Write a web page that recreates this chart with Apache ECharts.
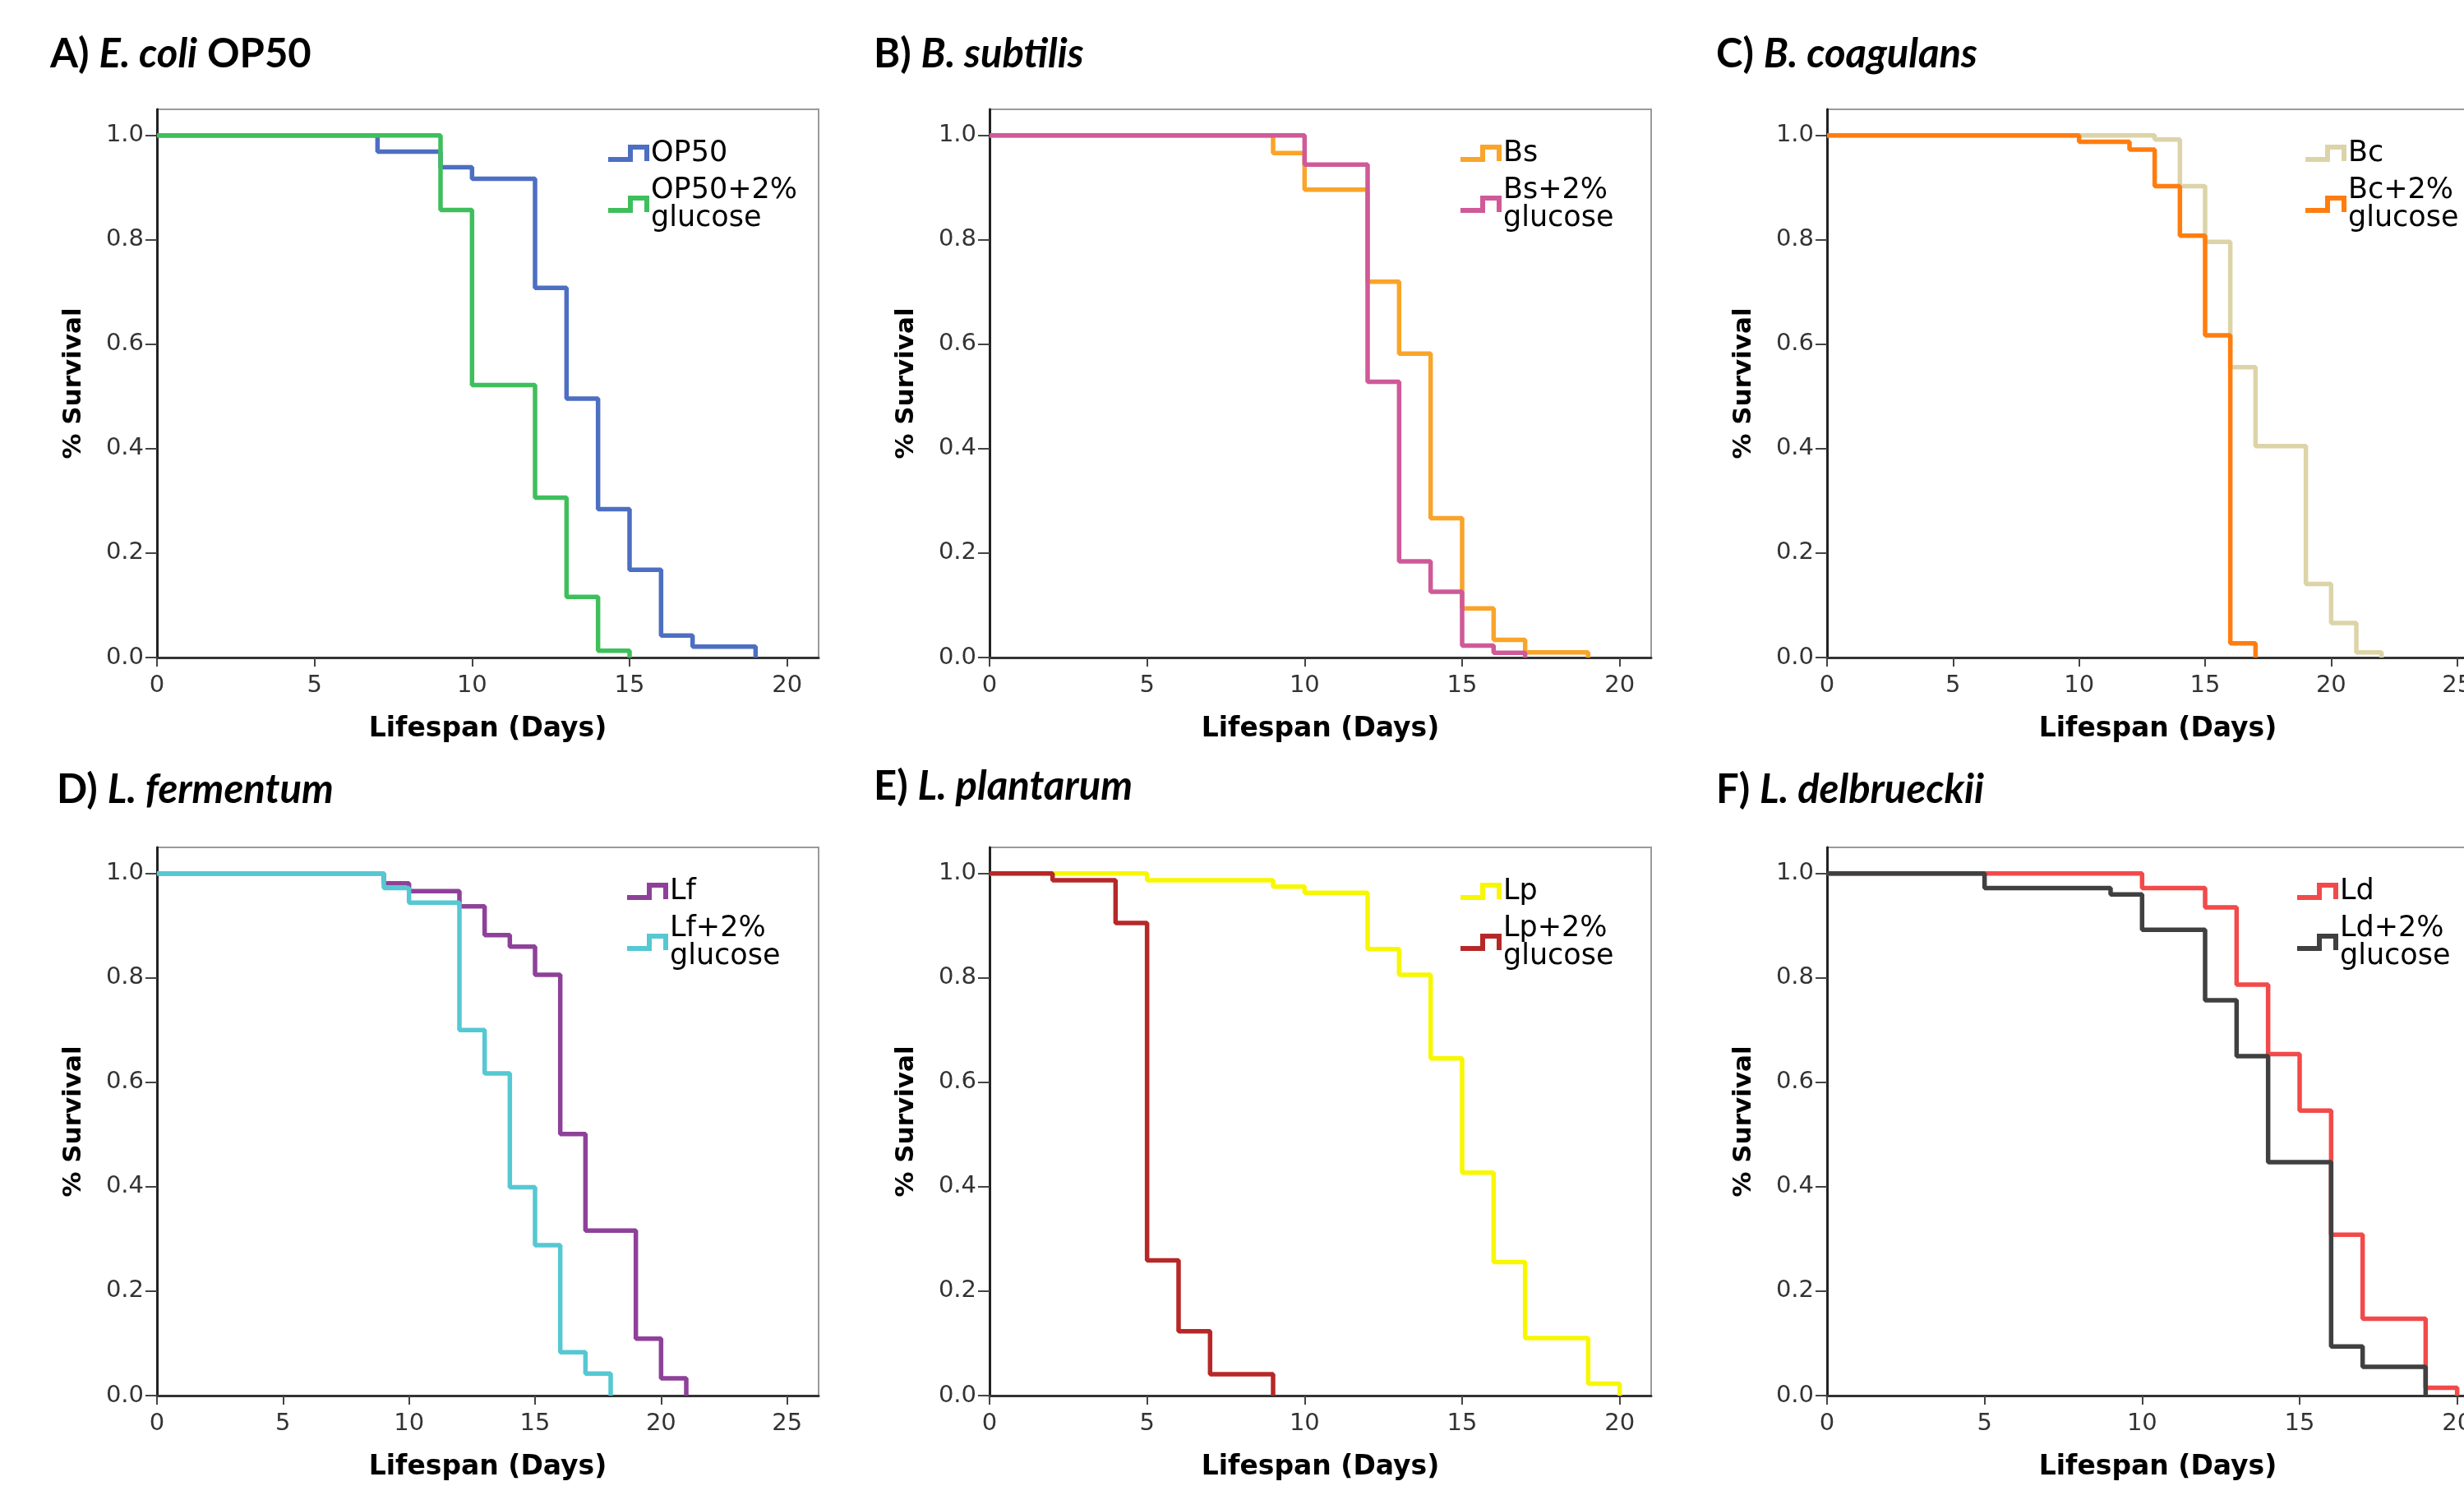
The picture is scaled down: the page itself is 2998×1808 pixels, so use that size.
<!DOCTYPE html>
<html>
<head>
<meta charset="utf-8">
<script src="https://cdn.jsdelivr.net/npm/echarts@6/dist/echarts.min.js"></script>
<style>
body{margin:0;background:#fff;overflow:hidden;}
#main{width:3100px;height:1808px;}
</style>
</head>
<body>
<div id="main"></div>
<script>
// tick labels
var yTicks = [0, 0.2, 0.4, 0.6, 0.8, 1.0];
var xTicks20 = [0, 5, 10, 15, 20];
var xTicks25 = [0, 5, 10, 15, 20, 25];

// survival curves, [day, fraction alive]
var op50 = [[0,1],[7,0.969],[9,0.939],[10,0.917],[12,0.708],[13,0.496],[14,0.284],[15,0.168],[16,0.042],[17,0.021],[19,0]];
var op50Glu = [[0,1],[9,0.857],[10,0.522],[12,0.306],[13,0.116],[14,0.013],[15,0]];
var bs = [[0,1],[9,0.966],[10,0.896],[12,0.72],[13,0.582],[14,0.267],[15,0.094],[16,0.034],[17,0.01],[19,0]];
var bsGlu = [[0,1],[10,0.944],[12,0.528],[13,0.184],[14,0.126],[15,0.023],[16,0.009],[17,0]];
var bc = [[0,1],[13,0.992],[14,0.903],[15,0.796],[16,0.556],[17,0.405],[19,0.141],[20,0.066],[21,0.01],[22,0]];
var bcGlu = [[0,1],[10,0.988],[12,0.973],[13,0.903],[14,0.808],[15,0.617],[16,0.027],[17,0]];
var lf = [[0,1],[9,0.981],[10,0.966],[12,0.937],[13,0.882],[14,0.86],[15,0.806],[16,0.501],[17,0.316],[19,0.109],[20,0.033],[21,0]];
var lfGlu = [[0,1],[9,0.972],[10,0.944],[12,0.7],[13,0.617],[14,0.399],[15,0.288],[16,0.083],[17,0.042],[18,0]];
var lp = [[0,1],[5,0.987],[9,0.975],[10,0.963],[12,0.855],[13,0.806],[14,0.646],[15,0.427],[16,0.256],[17,0.11],[19,0.023],[20,0]];
var lpGlu = [[0,1],[2,0.987],[4,0.905],[5,0.259],[6,0.123],[7,0.041],[9,0]];
var ld = [[0,1],[10,0.972],[12,0.935],[13,0.787],[14,0.654],[15,0.546],[16,0.308],[17,0.147],[19,0.015],[20,0]];
var ldGlu = [[0,1],[5,0.972],[9,0.96],[10,0.892],[12,0.757],[13,0.65],[14,0.447],[16,0.094],[17,0.055],[19,0]];

var panels = [
  {lbl:'A) ', sp:'E. coli', extra:' OP50', left:191, top:133, xmax:21, ticks:xTicks20, tx:63, ty:67,
   names:['OP50','OP50+2%\nglucose'], data:[op50, op50Glu], colors:['#4d6fc2','#3fbf5c'], legX:735},
  {lbl:'B) ', sp:'B. subtilis', extra:'', left:1204, top:133, xmax:21, ticks:xTicks20, tx:1065, ty:67,
   names:['Bs','Bs+2%\nglucose'], data:[bs, bsGlu], colors:['#f9a42a','#cf5a98'], legX:1772},
  {lbl:'C) ', sp:'B. coagulans', extra:'', left:2223, top:133, xmax:26.25, ticks:xTicks25, tx:2090, ty:67,
   names:['Bc','Bc+2%\nglucose'], data:[bc, bcGlu], colors:['#dcd4a8','#ff7d0f'], legX:2800},
  {lbl:'D) ', sp:'L. fermentum', extra:'', left:191, top:1031, xmax:26.25, ticks:xTicks25, tx:71, ty:962,
   names:['Lf','Lf+2%\nglucose'], data:[lf, lfGlu], colors:['#8e4199','#55c8d2'], legX:758},
  {lbl:'E) ', sp:'L. plantarum', extra:'', left:1204, top:1031, xmax:21, ticks:xTicks20, tx:1065, ty:958,
   names:['Lp','Lp+2%\nglucose'], data:[lp, lpGlu], colors:['#f7f700','#b62828'], legX:1772},
  {lbl:'F) ', sp:'L. delbrueckii', extra:'', left:2223, top:1031, xmax:21, ticks:xTicks20, tx:2090, ty:962,
   names:['Ld','Ld+2%\nglucose'], data:[ld, ldGlu], colors:['#f24a4a','#404040'], legX:2790}
];

var stepIcon = 'path://M0,15 L24,15 L24,0 L50,0 L50,20 L44,20 L44,6 L30,6 L30,21 L0,21 Z';
var W = 805, H = 667;

var option = {backgroundColor:'#fff', animation:false, title:[], grid:[], xAxis:[], yAxis:[], legend:[], series:[]};

for (var i = 0; i < panels.length; i++) {
  var p = panels[i];
  option.title.push({
    left: p.tx - 7, top: p.ty - 30, padding:5,
    text: '{n|' + p.lbl + '}{i|' + p.sp + '}' + (p.extra ? '{n|' + p.extra + '}' : ''),
    textStyle: {
      rich: {
        n: {fontFamily:'Lato', fontWeight:'bold', fontSize:49, color:'#000'},
        i: {fontFamily:'Lato', fontWeight:'bold', fontStyle:'italic', fontSize:49, color:'#000'}
      }
    }
  });
  option.grid.push({left:p.left, top:p.top, width:W, height:H, show:true, borderColor:'#9a9a9a', borderWidth:2, backgroundColor:'#fff'});
  option.xAxis.push({
    gridIndex:i, type:'value', min:0, max:p.xmax,
    name:'Lifespan (Days)', nameLocation:'middle', nameGap:71,
    nameTextStyle:{fontFamily:'DejaVu Sans', fontWeight:'bold', fontSize:33, color:'#000'},
    axisLine:{show:true, onZero:false, lineStyle:{color:'#333', width:3}},
    axisTick:{show:true, length:11, customValues:p.ticks, lineStyle:{color:'#444', width:2}},
    axisLabel:{customValues:p.ticks, margin:20, fontFamily:'DejaVu Sans', fontSize:29, color:'#333'},
    splitLine:{show:false}
  });
  option.yAxis.push({
    gridIndex:i, type:'value', min:0, max:1.05,
    name:'% Survival', nameLocation:'middle', nameGap:86, nameRotate:90,
    nameTextStyle:{fontFamily:'DejaVu Sans', fontWeight:'bold', fontSize:31, color:'#000'},
    axisLine:{show:true, onZero:false, lineStyle:{color:'#222', width:3}},
    axisTick:{show:true, length:14, customValues:yTicks, lineStyle:{color:'#444', width:2}},
    axisLabel:{customValues:yTicks, margin:16, fontFamily:'DejaVu Sans', fontSize:29, color:'#333',
      padding:[7,0,0,0], formatter:function (v) { return v.toFixed(1); }},
    splitLine:{show:false}
  });
  option.legend.push({
    orient:'vertical', left:p.legX, top:p.top + 31, itemWidth:50, itemHeight:22, itemGap:10,
    icon:stepIcon, data:p.names, selectedMode:false,
    textStyle:{fontFamily:'DejaVu Sans', fontSize:35, color:'#000', lineHeight:34, padding:[0,0,0,-3]}
  });
  for (var k = 0; k < 2; k++) {
    option.series.push({
      type:'line', name:p.names[k], xAxisIndex:i, yAxisIndex:i, step:'end',
      data:p.data[k], symbol:'none', color:p.colors[k],
      lineStyle:{width:5.5, color:p.colors[k]}, z:3 + k
    });
  }
}

var chart = echarts.init(document.getElementById('main'));
chart.setOption(option);
</script>
</body>
</html>
